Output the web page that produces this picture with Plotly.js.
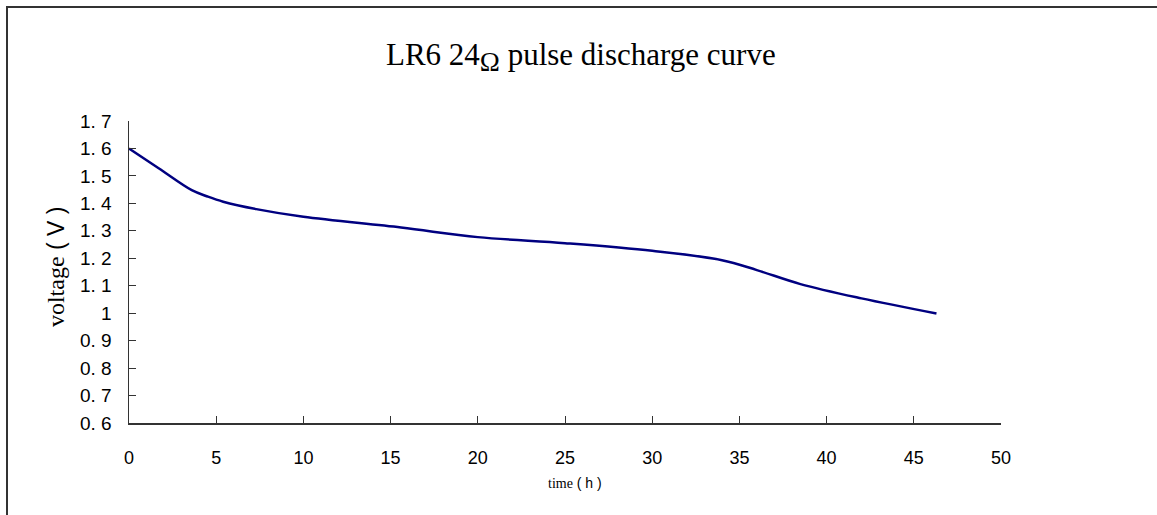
<!DOCTYPE html>
<html>
<head>
<meta charset="utf-8">
<script src="https://cdn.plot.ly/plotly-3.0.1.min.js"></script>
<style>
  html, body { margin: 0; padding: 0; background: #fff; }
  #wrap { position: relative; width: 1157px; height: 515px; }
  #chart { position: absolute; left: 0; top: 0; width: 1157px; height: 515px; }
  #frame { position: absolute; left: 6px; top: 6px; right: 0; bottom: 0;
           border-left: 2px solid #333; border-top: 2px solid #333; pointer-events: none; }
</style>
</head>
<body>
<div id="wrap">
  <div id="chart"></div>
  <div id="frame"></div>
</div>
<script>
const timeHours = [0, 1.7, 3.6, 4.5, 5.4, 7.3, 10, 15.6, 20, 25, 30, 34, 36, 38.5, 42, 46.3];
const voltage   = [1.60, 1.528, 1.448, 1.425, 1.406, 1.379, 1.351, 1.312, 1.277, 1.255, 1.227, 1.193, 1.157, 1.106, 1.054, 0.999];
const xTicks = [0, 5, 10, 15, 20, 25, 30, 35, 40, 45, 50];
const yTicks = [0.6, 0.7, 0.8, 0.9, 1, 1.1, 1.2, 1.3, 1.4, 1.5, 1.6, 1.7];
const yTickText = ["0. 6", "0. 7", "0. 8", "0. 9", "1", "1. 1", "1. 2", "1. 3", "1. 4", "1. 5", "1. 6", "1. 7"];

const serif = "Liberation Serif, Times New Roman, serif";
const sans = "Liberation Sans, Arial, sans-serif";

const trace = {
  x: timeHours, y: voltage, type: 'scatter', mode: 'lines',
  line: { color: '#000080', width: 2.5, shape: 'spline', smoothing: 1 },
  hoverinfo: 'skip'
};

const layout = {
  width: 1157, height: 515,
  margin: { l: 129, r: 156, t: 121, b: 92 },
  paper_bgcolor: '#ffffff', plot_bgcolor: '#ffffff',
  showlegend: false,
  title: {
    text: 'LR6 24<sub><span style="font-size:27px">Ω</span></sub> pulse discharge curve',
    font: { family: serif, size: 31, color: '#000' },
    x: 0.502, xanchor: 'center', y: 0.895, yanchor: 'middle'
  },
  xaxis: {
    range: [0, 50], tickmode: 'array', tickvals: xTicks,
    ticks: 'inside', ticklen: 7, tickcolor: '#333', tickwidth: 1,
    showline: true, linecolor: '#333', linewidth: 1.5,
    showgrid: false, zeroline: false,
    tickfont: { family: sans, size: 18, color: '#000' },
    ticklabelstandoff: 18
  },
  yaxis: {
    range: [0.6, 1.7], tickmode: 'array', tickvals: yTicks, ticktext: yTickText,
    ticks: 'inside', ticklen: 7, tickcolor: '#333', tickwidth: 1,
    showline: true, linecolor: '#333', linewidth: 1.5,
    showgrid: false, zeroline: false,
    tickfont: { family: sans, size: 19, color: '#000' },
    ticklabelstandoff: 12
  },
  annotations: [
    {
      text: '<span style="font-family:Liberation Serif">time</span><span style="font-family:Liberation Sans;font-size:14px"> ( h )</span>',
      font: { family: serif, size: 14, color: '#000' },
      xref: 'paper', yref: 'paper', x: 0.512, y: -0.20,
      xanchor: 'center', yanchor: 'middle', showarrow: false
    },
    {
      text: '<span style="font-family:Liberation Serif">voltage</span><span style="font-family:Liberation Sans;font-size:23px"> ( V )</span>',
      font: { family: serif, size: 24, color: '#000' },
      textangle: -90,
      xref: 'paper', yref: 'paper', x: -0.083, y: 0.515,
      xanchor: 'center', yanchor: 'middle', showarrow: false
    }
  ]
};

Plotly.newPlot('chart', [trace], layout, { staticPlot: true, displayModeBar: false });
</script>
</body>
</html>
